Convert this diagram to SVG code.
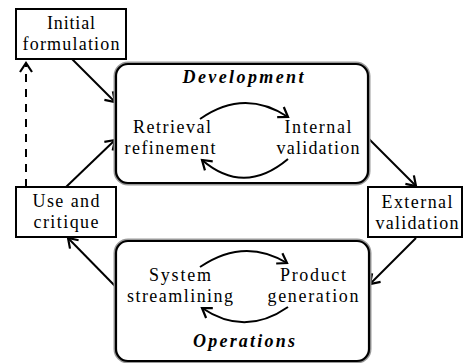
<svg xmlns="http://www.w3.org/2000/svg" width="464" height="363" viewBox="0 0 464 363">
<defs>
<marker id="arr" markerUnits="userSpaceOnUse" markerWidth="16" markerHeight="16" refX="10" refY="7" orient="auto" viewBox="0 0 16 14">
<path d="M1,1 L10,7 L1,13" fill="none" stroke="#000" stroke-width="2.2"/>
</marker>
</defs>
<style>
text{font-family:"Liberation Serif","DejaVu Serif",serif;font-size:18px;fill:#000;text-anchor:middle}
.title{font-weight:bold;font-style:italic}
.box{fill:#fff;stroke:#000;stroke-width:2}
.halo{fill:none;stroke:#999;stroke-width:5}
.rbox{fill:#fff;stroke:#000;stroke-width:2.2}
.c{fill:none;stroke:#000;stroke-width:2;marker-end:url(#arr)}
.d{fill:none;stroke:#000;stroke-width:2;stroke-dasharray:8 7;marker-end:url(#arr)}
</style>
<g id="connectors">
<line class="c" x1="72" y1="59" x2="115" y2="102"/>
<line class="c" x1="66" y1="187" x2="115" y2="140"/>
<line class="d" x1="26" y1="187" x2="26" y2="63"/>
<line class="c" x1="369" y1="139" x2="416" y2="186"/>
<line class="c" x1="416" y1="238" x2="370" y2="284"/>
<line class="c" x1="116" y1="287" x2="68" y2="238"/>
</g>
<g id="development">
<rect class="halo" x="116" y="64" width="252" height="119" rx="12"/>
<rect class="rbox" x="116" y="64" width="252" height="119" rx="12"/>
<text class="title" x="243" y="83" textLength="121" lengthAdjust="spacing">Development</text>
<path class="c" d="M200,119 Q244,88 288,117"/>
<path class="c" d="M288,159 Q244,196 202,160"/>
</g>
<g id="retrieval">
<text x="172" y="133" textLength="78" lengthAdjust="spacing">Retrieval</text>
<text x="170" y="154" textLength="91" lengthAdjust="spacing">refinement</text>
</g>
<g id="internal">
<text x="318" y="133" textLength="67" lengthAdjust="spacing">Internal</text>
<text x="318" y="154" textLength="83" lengthAdjust="spacing">validation</text>
</g>
<g id="operations">
<rect class="halo" x="116" y="241" width="253" height="120" rx="12"/>
<rect class="rbox" x="116" y="241" width="253" height="120" rx="12"/>
<text class="title" x="244" y="347" textLength="102" lengthAdjust="spacing">Operations</text>
<path class="c" d="M200,267 Q244,237 287,263"/>
<path class="c" d="M288,307 Q245,337 202,308"/>
</g>
<g id="system">
<text x="180" y="281" textLength="62" lengthAdjust="spacing">System</text>
<text x="180" y="302" textLength="106" lengthAdjust="spacing">streamlining</text>
</g>
<g id="product">
<text x="313" y="281" textLength="66" lengthAdjust="spacing">Product</text>
<text x="313" y="302" textLength="91" lengthAdjust="spacing">generation</text>
</g>
<g id="initial">
<rect class="box" x="16" y="9" width="110" height="50"/>
<text x="71" y="29" textLength="48" lengthAdjust="spacing">Initial</text>
<text x="71" y="50" textLength="97" lengthAdjust="spacing">formulation</text>
</g>
<g id="use">
<rect class="box" x="16" y="187" width="100" height="50"/>
<text x="66" y="207" textLength="67" lengthAdjust="spacing">Use and</text>
<text x="66" y="228" textLength="65" lengthAdjust="spacing">critique</text>
</g>
<g id="external">
<rect class="box" x="368" y="187" width="94" height="50"/>
<text x="417" y="208" textLength="71" lengthAdjust="spacing">External</text>
<text x="417" y="229" textLength="83" lengthAdjust="spacing">validation</text>
</g>
</svg>
